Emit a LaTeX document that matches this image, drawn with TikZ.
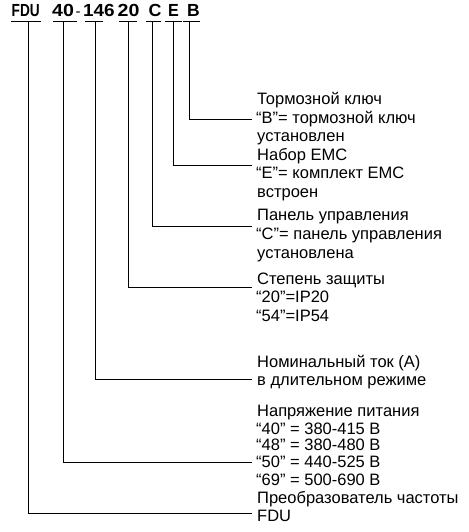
\documentclass[tikz,border=0pt]{standalone}
\usepackage{fontspec}
\setmainfont{Liberation Sans}
\begin{document}
\begin{tikzpicture}[x=1pt,y=-1pt,
  lbl/.style={anchor=base west,inner sep=0pt,font=\fontsize{16.5}{18}\selectfont},
  ttl/.style={anchor=base west,inner sep=0pt,font=\fontsize{17.5}{18}\selectfont\bfseries},
  ln/.style={line width=0.8pt,line cap=rect}]
\useasboundingbox (0,0) rectangle (468,532);
% title
\node[ttl] (tFDU) at (11.5,17) {\scalebox{0.78}[1]{FDU}};
\node[ttl] (t40) at (52,17) {\scalebox{1.12}[1]{40}};
\node[anchor=base west,inner sep=0pt,font=\fontsize{15}{18}\selectfont] (thy) at (75.5,17) {-};
\node[ttl] (t146) at (83,17) {\scalebox{1.08}[1]{146}};
\node[ttl] (t20) at (117.5,17) {\scalebox{1.12}[1]{20}};
\node[ttl] (tC) at (148.5,17) {\scalebox{1.02}[1]{C}};
\node[ttl] (tE) at (168,17) {\scalebox{0.92}[1]{E}};
\node[ttl] (tB) at (187,17) {\scalebox{1.0}[1]{B}};
% underlines
\draw[ln] (11,21) -- (41,21);
\draw[ln] (53,21) -- (77,21);
\draw[ln] (85,21) -- (103,21);
\draw[ln] (119,21) -- (137,21);
\draw[ln] (146,21) -- (161,21);
\draw[ln] (165,21) -- (182,21);
\draw[ln] (183,21) -- (200,21);
% descriptions
\node[lbl] (b1) at (257,105) {Тормозной ключ};
\node[lbl] (b2) at (256,123) {“B”= тормозной ключ};
\node[lbl] (b3) at (257,141) {установлен};
\node[lbl] (e1) at (257,160) {Набор EMC};
\node[lbl] (e2) at (256,178) {“E”= комплект EMC};
\node[lbl] (e3) at (257,197) {встроен};
\node[lbl] (c1) at (257,220) {Панель управления};
\node[lbl] (c2) at (256,239) {“C”= панель управления};
\node[lbl] (c3) at (257,258) {установлена};
\node[lbl] (p1) at (257,284) {Степень защиты};
\node[lbl] (p2) at (256,302) {“20”=IP20};
\node[lbl] (p3) at (256,321) {“54”=IP54};
\node[lbl] (n1) at (257,367) {Номинальный ток (А)};
\node[lbl] (n2) at (257,385) {в длительном режиме};
\node[lbl] (v1) at (257,416) {Напряжение питания};
\node[lbl] (v2) at (256,434) {“40” = 380-415 В};
\node[lbl] (v3) at (256,450) {“48” = 380-480 В};
\node[lbl] (v4) at (256,467) {“50” = 440-525 В};
\node[lbl] (v5) at (256,485) {“69” = 500-690 В};
\node[lbl] (f1) at (257,503) {Преобразователь частоты};
\node[lbl] (f2) at (257,521) {FDU};
% connector start points (under the code letters) and free ends
\coordinate (sB) at (189,21);   \coordinate (eB) at (252,119);
\coordinate (sE) at (173,21);   \coordinate (eE) at (252,165);
\coordinate (sC) at (152,21);   \coordinate (eC) at (252,226);
\coordinate (s20) at (128,21);  \coordinate (e20) at (252,287);
\coordinate (s146) at (95,21);  \coordinate (e146) at (252,379);
\coordinate (s40) at (63,21);   \coordinate (e40) at (252,462);
\coordinate (sF) at (28,21);    \coordinate (eF) at (252,513);
\draw[ln,line cap=butt] (sB) |- (eB);
\draw[ln,line cap=butt] (sE) |- (eE);
\draw[ln,line cap=butt] (sC) |- (eC);
\draw[ln,line cap=butt] (s20) |- (e20);
\draw[ln,line cap=butt] (s146) |- (e146);
\draw[ln,line cap=butt] (s40) |- (e40);
\draw[ln,line cap=butt] (sF) |- (eF);
\end{tikzpicture}
\end{document}
